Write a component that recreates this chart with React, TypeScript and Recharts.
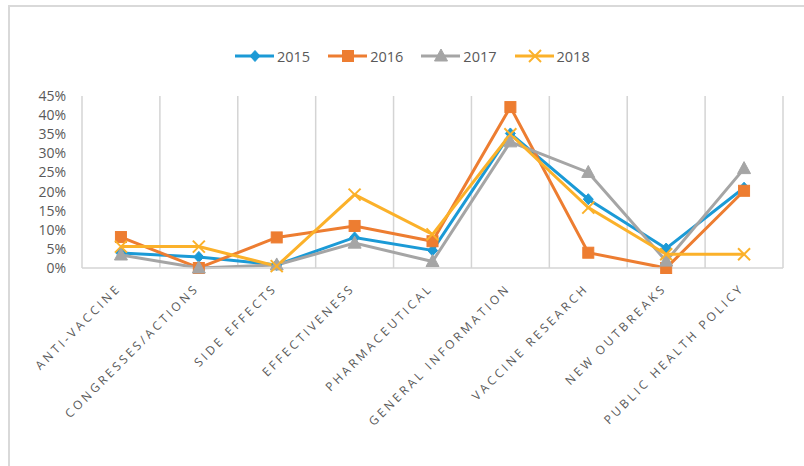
import React from 'react';
import { LineChart, Line, XAxis, YAxis, CartesianGrid } from 'recharts';

const categories = ['ANTI-VACCINE', 'CONGRESSES/ACTIONS', 'SIDE EFFECTS', 'EFFECTIVENESS', 'PHARMACEUTICAL', 'GENERAL INFORMATION', 'VACCINE RESEARCH', 'NEW OUTBREAKS', 'PUBLIC HEALTH POLICY'];
const s2015 = [3.9, 2.9, 0.8, 8.0, 4.6, 35.2, 18.0, 5.1, 21.0];
const s2016 = [8.1, 0, 8.0, 11.0, 7.0, 42.1, 4.0, 0, 20.2];
const s2017 = [3.4, 0, 0.8, 6.5, 1.7, 33.0, 25.0, 1.8, 26.0];
const s2018 = [5.6, 5.6, 0.5, 19.2, 8.8, 35.0, 15.8, 3.6, 3.6];
const yTicks = [0, 5, 10, 15, 20, 25, 30, 35, 40, 45];

const data = categories.map((c, i) => ({ name: c, y2015: s2015[i], y2016: s2016[i], y2017: s2017[i], y2018: s2018[i] }));

const C15 = '#1b9ad6';
const C16 = '#ed7d31';
const C17 = '#a5a5a5';
const C18 = '#fbb12a';
const FONT = '"Open Sans", sans-serif';
const TXT = '#595959';

const Diamond = ({ cx, cy, color }: any) => (
  <polygon points={`${cx},${cy - 5.5} ${cx + 5},${cy} ${cx},${cy + 5.5} ${cx - 5},${cy}`} fill={color} stroke={color} />
);
const Square = ({ cx, cy, color }: any) => (
  <rect x={cx - 5.5} y={cy - 5.5} width={11} height={11} fill={color} stroke={color} />
);
const Triangle = ({ cx, cy, color }: any) => (
  <polygon points={`${cx},${cy - 7} ${cx + 6.5},${cy + 5} ${cx - 6.5},${cy + 5}`} fill={color} stroke={color} />
);
const Cross = ({ cx, cy, color }: any) => (
  <g stroke={color} strokeWidth={2}>
    <line x1={cx - 6} y1={cy - 6} x2={cx + 6} y2={cy + 6} />
    <line x1={cx - 6} y1={cy + 6} x2={cx + 6} y2={cy - 6} />
  </g>
);

const mk = (Comp: any, color: string) => (props: any) => {
  if (props.cx == null || props.cy == null) return <g key={props.index} />;
  return <g key={`d-${props.index}`}><Comp cx={props.cx} cy={props.cy} color={color} /></g>;
};

const XTick = ({ x, y, payload }: any) => (
  <g transform={`translate(${x + 1},${y + 13})`}>
    <text x={0} y={0} transform="rotate(-45)" textAnchor="end" fill={TXT} fontSize={12} fontFamily={FONT} letterSpacing={3}>
      {payload.value}
    </text>
  </g>
);

const legendItems = [
  { label: '2015', color: C15, Comp: Diamond },
  { label: '2016', color: C16, Comp: Square },
  { label: '2017', color: C17, Comp: Triangle },
  { label: '2018', color: C18, Comp: Cross },
];

const gridGen = ({ offset }: any) => {
  const xs: number[] = [];
  for (let i = 0; i <= categories.length; i++) xs.push(offset.left + (offset.width * i) / categories.length);
  return xs;
};

export default function App() {
  return (
    <div style={{ position: 'absolute', left: 0, top: 0, width: 804, height: 466, overflow: 'hidden', background: '#fff' }}>
      <div style={{ position: 'absolute', left: 8, top: 5, width: 900, height: 600, border: '2px solid #d9d9d9' }} />
      <div style={{ position: 'absolute', left: 235, top: 44, display: 'flex', alignItems: 'center', height: 24 }}>
        {legendItems.map((it) => (
          <div key={it.label} style={{ display: 'flex', alignItems: 'center', marginRight: 18 }}>
            <svg width={40} height={20}>
              <line x1={0} y1={10} x2={39} y2={10} stroke={it.color} strokeWidth={3} />
              <it.Comp cx={20} cy={10} color={it.color} />
            </svg>
            <span style={{ fontFamily: FONT, fontSize: 14.5, color: TXT, marginLeft: 2 }}>{it.label}</span>
          </div>
        ))}
      </div>
      <div style={{ position: 'absolute', left: 0, top: 0 }}>
        <LineChart width={804} height={466} data={data} margin={{ top: 96, right: 21, bottom: 8, left: 0 }}>
          <CartesianGrid horizontal={false} vertical stroke="#d4d4d4" strokeWidth={1.5} verticalCoordinatesGenerator={gridGen} />
          <XAxis dataKey="name" scale="band" interval={0} tick={<XTick />} tickLine={false} axisLine={{ stroke: '#d4d4d4', strokeWidth: 1.5 }} height={190} />
          <YAxis domain={[0, 45]} ticks={yTicks} interval={0} tickFormatter={(v: number) => `${v}%`} axisLine={false} tickLine={false} width={82} tickSize={6} tickMargin={10}
            tick={{ fill: TXT, fontSize: 14, fontFamily: FONT }} />
          <Line dataKey="y2015" stroke={C15} strokeWidth={3} dot={mk(Diamond, C15)} isAnimationActive={false} />
          <Line dataKey="y2016" stroke={C16} strokeWidth={3} dot={mk(Square, C16)} isAnimationActive={false} />
          <Line dataKey="y2017" stroke={C17} strokeWidth={3} dot={mk(Triangle, C17)} isAnimationActive={false} />
          <Line dataKey="y2018" stroke={C18} strokeWidth={3} dot={mk(Cross, C18)} isAnimationActive={false} />
        </LineChart>
      </div>
    </div>
  );
}
